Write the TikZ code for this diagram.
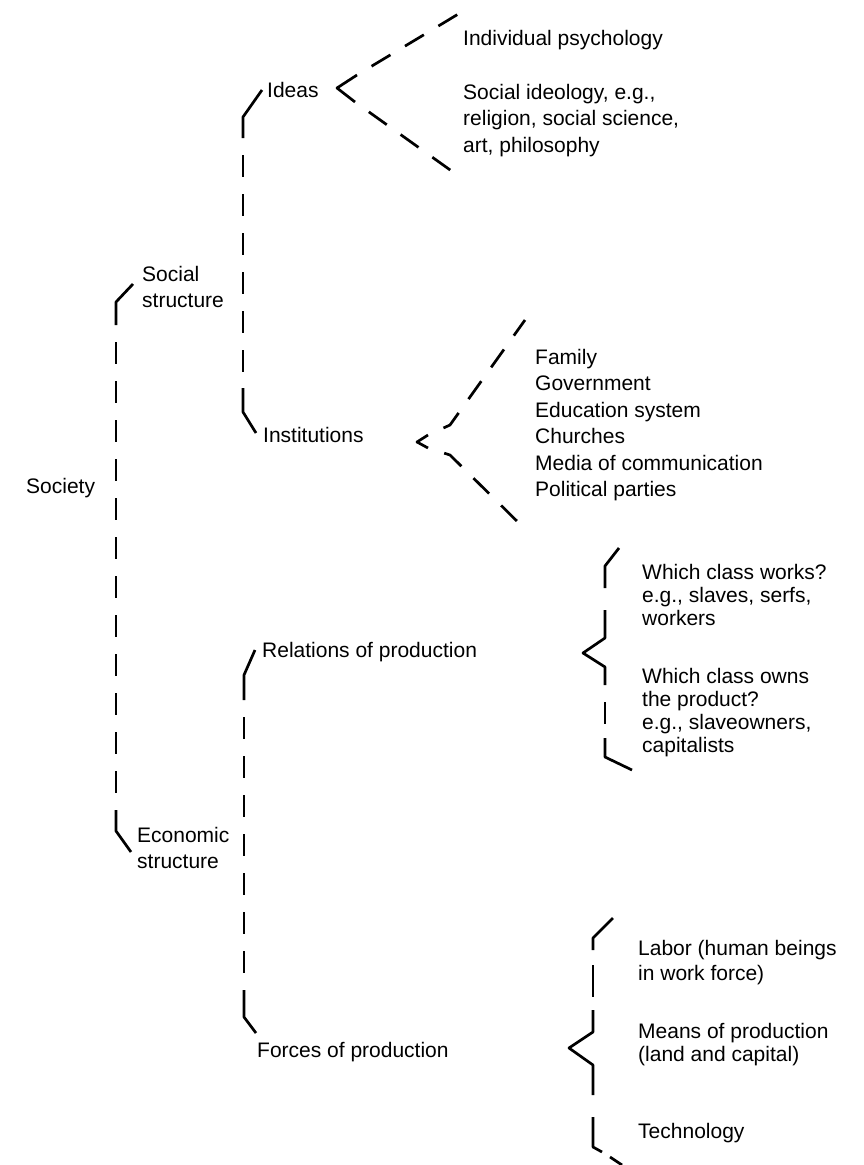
\documentclass[tikz,border=0pt]{standalone}
\usepackage{fontspec}
\setmainfont{Liberation Sans}
\tikzset{lbl/.style = {anchor = north west, inner sep = 0, align = left, font = \fontsize{21}{26.5}\selectfont}}
\tikzset{tip/.style = {line width = 2.7pt, line join = round}}
\tikzset{brk/.style = {tip, dash pattern = on 22pt off 17pt, dash phase = 22pt}}

\begin{document}
\begin{tikzpicture}[x=1pt, y=-1pt]
      \useasboundingbox (0, 0) rectangle (864, 1165);

      \node [lbl] (society) at (26, 478) {Society};
      \node [lbl] (social) at (142, 266) {Social\\structure};
      \node [lbl] (economic) at (137, 827) {Economic\\structure};
      \node [lbl] (ideas) at (267, 82) {Ideas};
      \node [lbl] (institutions) at (263, 427) {Institutions};
      \node [lbl] (relations) at (262, 642) {Relations of production};
      \node [lbl] (forces) at (257, 1042) {Forces of production};

      \node [lbl] (individual) at (463, 30) {Individual psychology};
      \node [lbl] (ideology) at (463, 84) {Social ideology, e.g.,\\religion, social science,\\art, philosophy};
      \node [lbl] (family) at (535, 349) {Family\\Government\\Education system\\Churches\\Media of communication\\Political parties};
      \node [lbl, font = \fontsize{21}{23}\selectfont] (works) at (642, 564) {Which class works?\\e.g., slaves, serfs,\\workers};
      \node [lbl, font = \fontsize{21}{23}\selectfont] (owns) at (642, 668) {Which class owns\\the product?\\e.g., slaveowners,\\capitalists};
      \node [lbl, font = \fontsize{21}{25}\selectfont] (labor) at (638, 940) {Labor (human beings\\in work force)};
      \node [lbl, font = \fontsize{21}{23.5}\selectfont] (means) at (638, 1023) {Means of production\\(land and capital)};
      \node [lbl] (technology) at (638, 1123) {Technology};

      \coordinate (society top) at (133, 284);
      \coordinate (society bottom) at (131, 852);
      \draw [tip] (society top) -- (116, 302) -- (116, 325);
      \draw [brk] (116, 325) -- (116, 810);
      \draw [tip] (116, 810) -- (116, 831) -- (society bottom);

      \coordinate (social top) at (262, 90);
      \coordinate (social bottom) at (256, 433);
      \draw [tip] (social top) -- (243, 117) -- (243, 138);
      \draw [brk] (243, 138) -- (243, 388);
      \draw [tip] (243, 388) -- (243, 412) -- (social bottom);

      \coordinate (economic top) at (255, 650);
      \coordinate (economic bottom) at (256, 1033);
      \draw [tip] (economic top) -- (244, 675) -- (244, 700);
      \draw [brk] (244, 700) -- (244, 990);
      \draw [tip] (244, 990) -- (244, 1017) -- (economic bottom);

      \coordinate (ideas up) at (460, 13);
      \coordinate (ideas down) at (453, 172);
      \draw [tip] (357, 75) -- (337, 88) -- (355, 102);
      \draw [brk] (357, 75) -- (ideas up);
      \draw [brk] (355, 102) -- (ideas down);

      \coordinate (institutions up) at (525, 320);
      \coordinate (institutions down) at (528, 532);
      \draw [tip] (428, 435) -- (417, 442) -- (428, 448);
      \draw [brk] (428, 435) -- (450, 425) -- (institutions up);
      \draw [brk] (428, 448) -- (450, 455) -- (institutions down);

      \coordinate (relations up) at (619, 548);
      \coordinate (relations down) at (632, 770);
      \draw [tip] (relations up) -- (605, 566) -- (605, 588);
      \draw [tip] (605, 610) -- (605, 638) -- (583, 653) -- (605, 667) -- (605, 685);
      \draw [brk] (605, 685) -- (605, 738);
      \draw [tip] (605, 738) -- (605, 757) -- (relations down);

      \coordinate (forces up) at (613, 918);
      \coordinate (forces down) at (622, 1165);
      \draw [tip] (forces up) -- (593, 938) -- (593, 950);
      \draw [tip] (593, 965) -- (593, 997);
      \draw [tip] (593, 1010) -- (593, 1032) -- (569, 1048) -- (593, 1065) -- (593, 1095);
      \draw [tip] (593, 1117) -- (593, 1147) -- (602, 1152);
      \draw [tip] (610, 1157) -- (forces down);
    \end{tikzpicture}
\end{document}
